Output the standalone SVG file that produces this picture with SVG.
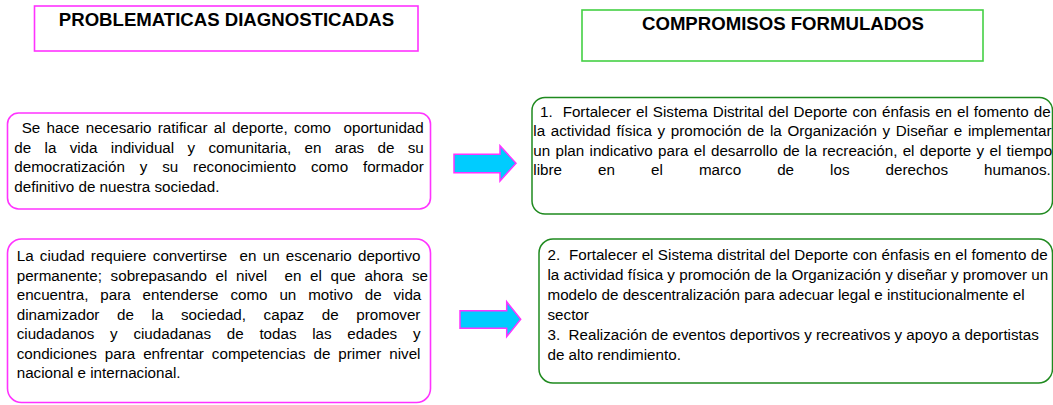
<svg xmlns="http://www.w3.org/2000/svg" width="1053" height="405" viewBox="0 0 1053 405">
<style>
text{font-family:"Liberation Sans",Arial,sans-serif;fill:#000}
.h{font-size:18.6px;font-weight:bold;text-anchor:middle}
.b{font-size:15.2px;white-space:pre}
.mag{fill:#fff;stroke:#ff33ff;stroke-width:1.6}
.grh{fill:#fff;stroke:#44d044;stroke-width:1.6}
.grb{fill:#fff;stroke:#1f8a1f;stroke-width:1.5}
.arr{fill:#00ccff;stroke:#ff33ff;stroke-width:1.5;stroke-linejoin:miter}
</style>
<rect width="1053" height="405" fill="#fff"/>
<g id="header-problematicas">
<rect class="mag" x="34.5" y="6" width="383.5" height="45"/>
<text class="h" x="226.5" y="26">PROBLEMATICAS DIAGNOSTICADAS</text>
</g>
<g id="header-compromisos">
<rect class="grh" x="582" y="10" width="401" height="51"/>
<text class="h" x="783" y="30">COMPROMISOS FORMULADOS</text>
</g>
<g id="problema-1">
<rect class="mag" x="7.5" y="113" width="423" height="96" rx="11"/>
<text class="b" x="21.7" y="133" word-spacing="2.03">Se hace necesario ratificar al deporte, como  oportunidad</text>
<text class="b" x="14.3" y="152.5" word-spacing="9.1">de la vida individual y comunitaria, en aras de su</text>
<text class="b" x="14.3" y="172" word-spacing="10.64">democratización y su reconocimiento como formador</text>
<text class="b" x="14.3" y="191.5">definitivo de nuestra sociedad.</text>
</g>
<g id="problema-2">
<rect class="mag" x="7.5" y="239" width="423" height="163.5" rx="14"/>
<text class="b" x="16.7" y="261" word-spacing="2.03">La ciudad requiere convertirse  en un escenario deportivo</text>
<text class="b" x="16.7" y="280.5" word-spacing="4.42">permanente; sobrepasando el nivel  en el que ahora se</text>
<text class="b" x="16.7" y="300" word-spacing="7.63">encuentra, para entenderse como un motivo de vida</text>
<text class="b" x="16.7" y="319.5" word-spacing="13.4">dinamizador de la sociedad, capaz de promover</text>
<text class="b" x="16.7" y="339" word-spacing="11.49">ciudadanos y ciudadanas de todas las edades y</text>
<text class="b" x="16.7" y="358.5" word-spacing="3.7">condiciones para enfrentar competencias de primer nivel</text>
<text class="b" x="16.7" y="378">nacional e internacional.</text>
</g>
<g id="compromiso-1">
<rect class="grb" x="532" y="97.5" width="520.5" height="116.5" rx="13"/>
<text class="b" x="540" y="117.3" word-spacing="0.77">1.  Fortalecer el Sistema Distrital del Deporte con énfasis en el fomento de</text>
<text class="b" x="533.3" y="136.4" word-spacing="1.45">la actividad física y promoción de la Organización y Diseñar e implementar</text>
<text class="b" x="533.3" y="155.5" word-spacing="1.08">un plan indicativo para el desarrollo de la recreación, el deporte y el tiempo</text>
<text class="b" x="533.3" y="174.6" word-spacing="31.84">libre en el marco de los derechos humanos.</text>
</g>
<g id="compromiso-2">
<rect class="grb" x="539" y="239" width="513.5" height="144" rx="14"/>
<text class="b" x="547.5" y="260" word-spacing="0.16">2.  Fortalecer el Sistema distrital del Deporte con énfasis en el fomento de</text>
<text class="b" x="547.5" y="280">la actividad física y promoción de la Organización y diseñar y promover un</text>
<text class="b" x="547.5" y="300">modelo de descentralización para adecuar legal e institucionalmente el</text>
<text class="b" x="547.5" y="320">sector</text>
<text class="b" x="547.5" y="340">3.  Realización de eventos deportivos y recreativos y apoyo a deportistas</text>
<text class="b" x="547.5" y="359.5">de alto rendimiento.</text>
</g>
<g id="connectors">
<polygon class="arr" points="454,154.3 500,154.3 500,145.7 516,163.3 500,181 500,172.7 454,172.7"/>
<polygon class="arr" points="460,310.7 506.7,310.7 506.7,301.7 520.7,319.3 506.7,336.7 506.7,328.3 460,328.3"/>
</g>
</svg>
